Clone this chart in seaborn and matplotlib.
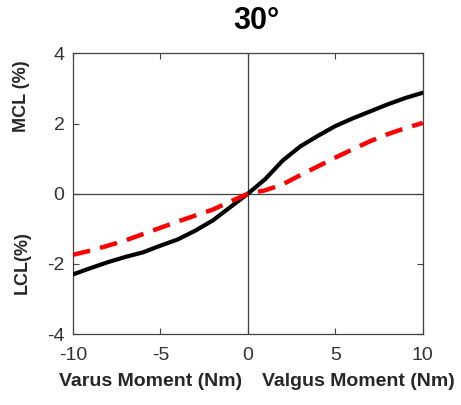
import matplotlib
matplotlib.use("Agg")
import matplotlib.pyplot as plt
import seaborn as sns
import pandas as pd

moment = [-10, -9, -8, -7, -6, -5, -4, -3, -2, -1, 0, 1, 2, 3, 4, 5, 6, 7, 8, 9, 10]
strain_black = [-2.30, -2.12, -1.95, -1.80, -1.67, -1.48, -1.30, -1.05, -0.76, -0.38, 0.0,
                0.42, 0.95, 1.35, 1.65, 1.93, 2.15, 2.35, 2.55, 2.73, 2.88]
strain_red = [-1.74, -1.62, -1.48, -1.33, -1.15, -0.97, -0.79, -0.62, -0.45, -0.22, 0.0,
              0.10, 0.27, 0.53, 0.78, 1.03, 1.27, 1.50, 1.70, 1.87, 2.02]
xticks = [-10, -5, 0, 5, 10]
yticks = [-4, -2, 0, 2, 4]

sns.set_style("white")
plt.rcParams['font.family'] = ['Arial', 'Liberation Sans', 'DejaVu Sans']

df = pd.DataFrame({"x": moment, "black": strain_black, "red": strain_red})

fig = plt.figure(figsize=(4.61, 4.05), dpi=100)
ax = fig.add_axes([0.158, 0.175, 0.759, 0.693])

ax.axhline(0, color="#404040", lw=0.9, zorder=1)
ax.axvline(0, color="#404040", lw=0.9, zorder=1)

sns.lineplot(data=df, x="x", y="black", ax=ax, color="black", lw=3, zorder=3)
sns.lineplot(data=df, x="x", y="red", ax=ax, color="red", lw=3.2, zorder=4,
             linestyle=(0, (4, 2.3)))

ax.set_xlim(-10, 10)
ax.set_ylim(-4, 4)
ax.set_xticks(xticks)
ax.set_yticks(yticks)
ax.set_xticklabels([str(t) for t in xticks])
ax.set_yticklabels([str(t) for t in yticks])
ax.tick_params(direction="in", length=4, width=0.8, colors="#404040",
               labelcolor="#333333", labelsize=14, top=True, right=True,
               bottom=True, left=True)
ax.tick_params(axis="x", pad=9)
ax.tick_params(axis="y", pad=6)
for s in ax.spines.values():
    s.set_color("#404040")
    s.set_linewidth(0.9)
    s.set_visible(True)

ax.set_xlabel("")
ax.set_ylabel("")

fig.text(256 / 461, 1 - 21 / 405, "30°", ha="center", va="center",
         fontsize=22, fontweight="bold", color="black")
fig.text(151 / 461, 1 - 382 / 405, "Varus Moment (Nm)", ha="center", va="center",
         fontsize=14, fontweight="bold", color="#262626")
fig.text(358 / 461, 1 - 382 / 405, "Valgus Moment (Nm)", ha="center", va="center",
         fontsize=14, fontweight="bold", color="#262626")
fig.text(22 / 461, 1 - 96 / 405, "MCL (%)", ha="center", va="center", rotation=90,
         fontsize=13, fontweight="bold", color="#262626")
fig.text(22 / 461, 1 - 263 / 405, "LCL(%)", ha="center", va="center", rotation=90,
         fontsize=13, fontweight="bold", color="#262626")

fig.savefig("out.png", dpi=100)
